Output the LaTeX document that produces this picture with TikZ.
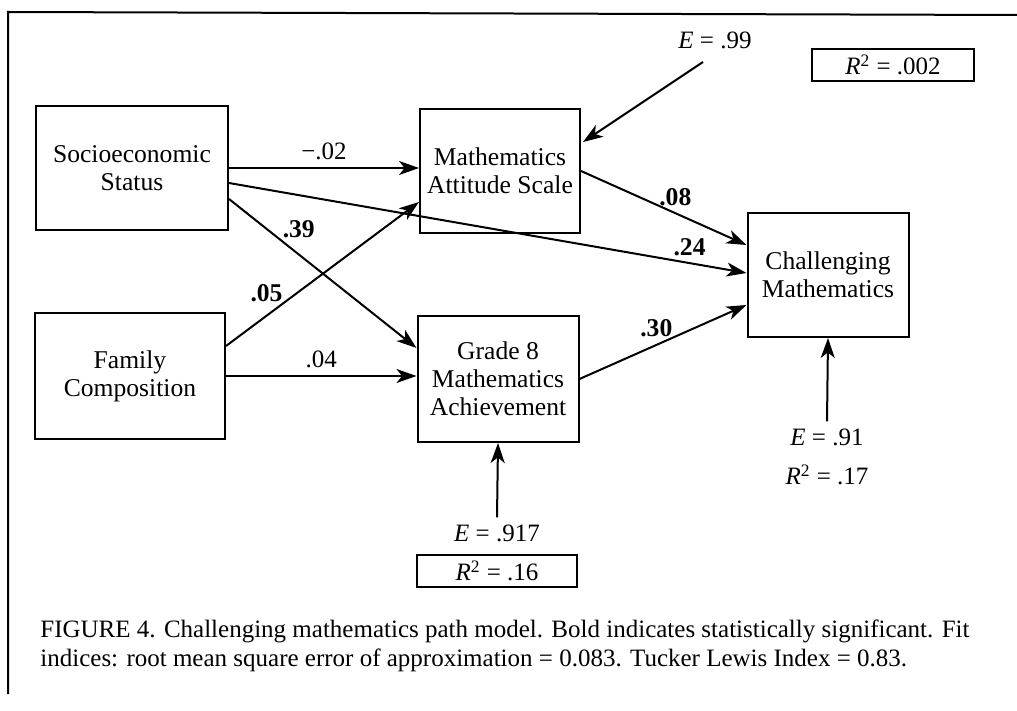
\documentclass[tikz,border=0pt]{standalone}
\usepackage{fontspec}
\setmainfont{Liberation Serif}
\usetikzlibrary{arrows.meta,calc}
\newcommand{\Rsq}[1]{\textit{R}\textsuperscript{2} = #1}
\newcommand{\Err}[1]{\textit{E} = #1}

\begin{document}
\begin{tikzpicture}[x=0.5pt,y=-0.5pt,
	box/.style={draw, line width=1pt, minimum height=62pt, align=center, font=\fontsize{12.8}{14}\selectfont},
	rbox/.style={draw, line width=1pt, minimum height=16pt, minimum width=81pt, inner sep=1pt, font=\fontsize{12.5}{14}\selectfont},
	effect/.style={line width=1pt, -{Stealth[length=10pt,width=7pt,inset=2.8pt]}},
	coef/.style={font=\fontsize{12.5}{14}\selectfont},
	sig/.style={font=\fontsize{12.8}{14}\selectfont\bfseries}]
	\useasboundingbox (0,0) rectangle (1017,711);
	% frame
	\draw[line width=1pt] (1017,15) -- (8,12) -- (8,694);

	% variables
	\node[box, minimum width=96pt] (ses) at (132,168) {Socioeconomic\\Status};
	\node[box, minimum width=95pt, minimum height=63pt] (fam) at (130,376) {Family\\Composition};
	\node[box, minimum width=80pt] (mas) at (500,171) {Mathematics\\Attitude Scale};
	\node[box, minimum width=80.5pt, minimum height=63pt] (gma) at (498,379) {Grade 8\\Mathematics\\Achievement};
	\node[box, minimum width=80.5pt] (cm) at (828,275) {Challenging\\Mathematics};

	% errors and R^2
	\node[coef] (emas) at (715,40) {\Err{.99}};
	\coordinate (emasend) at (703,62);
	\node[rbox] (rmas) at (893,65) {\Rsq{.002}};
	\node[coef] (egma) at (497,533) {\Err{.917}};
	\node[rbox, minimum width=80pt] (rgma) at (497,571) {\Rsq{.16}};
	\node[coef] (ecm) at (827,437) {\Err{.91}};
	\node[coef] (rcm) at (827,475) {\Rsq{.17}};

	% paths
	\draw[effect] (ses.east) -- (ses.east -| mas.west) node[midway, above, coef] {−.02};
	\draw[effect] ($(ses.east)+(0,15)$) -- ($(cm.west)+(0,-2)$) node[pos=.89, above, sig] {.24};
	\draw[effect] ($(ses.east)+(0,31)$) -- ($(gma.west)+(0,-31)$) node[pos=.34, above=2pt, xshift=3pt, sig] {.39};
	\draw[effect] ($(fam.east)+(0,-30)$) -- ($(mas.west)+(0,31)$) node[pos=.21, above=3pt, sig] {.05};
	\draw[effect] (fam.east) -- (fam.east -| gma.west) node[midway, above, coef] {.04};
	\draw[effect] (mas.east) -- ($(cm.west)+(0,-30)$) node[pos=.57, above, sig] {.08};
	\draw[effect] (gma.east) -- ($(cm.west)+(0,30)$) node[pos=.46, above, sig] {.30};
	\draw[effect] (emasend) -- ($(mas.north east)+(2,34)$);
	\draw[effect] (egma.north) -- (gma.south);
	\draw[effect] (ecm.north) -- (cm.south);

	% caption
	\node[anchor=north west, align=left, inner sep=0pt, font=\fontsize{12.5}{14.5}\selectfont] (caption) at (40,619)
		{FIGURE 4. Challenging mathematics path model. Bold indicates statistically significant. Fit\\
		indices: root mean square error of approximation = 0.083. Tucker Lewis Index = 0.83.};
\end{tikzpicture}
\end{document}
